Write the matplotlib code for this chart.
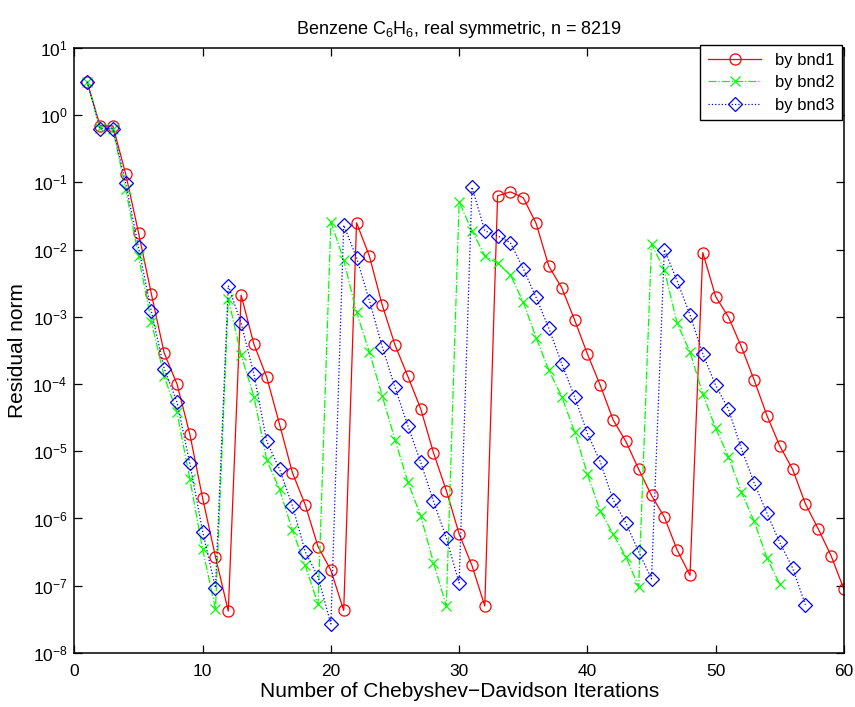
import numpy as np
import matplotlib
matplotlib.use('Agg')
import matplotlib.pyplot as plt

### residual norms, one value per iteration
bnd1 = [3.1, 0.69, 0.69, 0.133, 0.0178, 2.2e-3, 2.9e-4, 1.0e-4, 1.8e-5, 2.0e-6, 2.7e-7, 4.2e-8,
        2.1e-3, 3.9e-4, 1.26e-4, 2.5e-5, 4.8e-6, 1.6e-6, 3.8e-7, 1.7e-7, 4.3e-8,
        2.5e-2, 8.0e-3, 1.5e-3, 3.8e-4, 1.3e-4, 4.3e-5, 9.5e-6, 2.6e-6, 5.9e-7, 2.0e-7, 5.0e-8,
        6.3e-2, 7.2e-2, 5.9e-2, 2.45e-2, 5.6e-3, 2.7e-3, 9.0e-4, 2.8e-4, 9.6e-5, 2.95e-5,
        1.4e-5, 5.4e-6, 2.2e-6, 1.05e-6, 3.4e-7, 1.43e-7,
        9.0e-3, 2.0e-3, 9.9e-4, 3.6e-4, 1.15e-4, 3.4e-5, 1.2e-5, 5.4e-6, 1.65e-6, 7.0e-7, 2.8e-7, 8.9e-8]

bnd2 = [3.1, 0.65, 0.62, 0.079, 8.0e-3, 8.5e-4, 1.3e-4, 3.8e-5, 3.9e-6, 3.5e-7, 4.5e-8,
        1.86e-3, 2.7e-4, 6.5e-5, 7.4e-6, 2.7e-6, 6.7e-7, 2.0e-7, 5.3e-8,
        2.6e-2, 7.0e-3, 1.17e-3, 3.0e-4, 6.7e-5, 1.48e-5, 3.5e-6, 1.1e-6, 2.2e-7, 5.0e-8,
        5.1e-2, 1.9e-2, 8.1e-3, 6.2e-3, 4.2e-3, 1.65e-3, 4.9e-4, 1.6e-4, 6.5e-5, 1.95e-5,
        4.6e-6, 1.3e-6, 5.9e-7, 2.7e-7, 9.6e-8,
        1.2e-2, 5.0e-3, 8.0e-4, 3.0e-4, 7.1e-5, 2.2e-5, 8.3e-6, 2.5e-6, 9.1e-7, 2.6e-7, 1.05e-7]

bnd3 = [3.1, 0.63, 0.63, 0.097, 0.0108, 1.2e-3, 1.7e-4, 5.4e-5, 6.6e-6, 6.4e-7, 9.3e-8,
        2.9e-3, 8.0e-4, 1.4e-4, 1.4e-5, 5.4e-6, 1.55e-6, 3.2e-7, 1.35e-7, 2.7e-8,
        2.3e-2, 7.6e-3, 1.74e-3, 3.6e-4, 8.9e-5, 2.4e-5, 6.9e-6, 1.8e-6, 5.1e-7, 1.1e-7,
        8.5e-2, 1.9e-2, 1.6e-2, 1.26e-2, 5.2e-3, 1.94e-3, 6.7e-4, 2.0e-4, 6.5e-5, 1.85e-5,
        7.0e-6, 1.9e-6, 8.6e-7, 3.2e-7, 1.26e-7,
        1.0e-2, 3.4e-3, 1.07e-3, 2.8e-4, 9.6e-5, 4.2e-5, 1.1e-5, 3.4e-6, 1.2e-6, 4.4e-7, 1.84e-7, 5.2e-8]

it1 = np.arange(1, len(bnd1) + 1)
it2 = np.arange(1, len(bnd2) + 1)
it3 = np.arange(1, len(bnd3) + 1)

plt.rcParams['font.family'] = ['Liberation Sans', 'DejaVu Sans']
plt.rcParams['mathtext.default'] = 'regular'

fig = plt.figure(figsize=(8.55, 7.07), dpi=100)
ax = fig.add_axes([0.087, 0.0764, 0.900, 0.856])

ax.semilogy(it1, bnd1, color=(1, 0, 0), ls='-', lw=0.9, marker='o', ms=8,
            mfc='none', mec=(1, 0, 0), mew=0.9, label='by bnd1')
ax.semilogy(it2, bnd2, color=(0, 1, 0), ls='-.', lw=0.9, marker='x', ms=7,
            mew=0.9, label='by bnd2')
ax.semilogy(it3, bnd3, color=(0, 0, 1), ls=':', lw=0.9, marker='D', ms=7,
            mfc='none', mec=(0, 0, 1), mew=0.9, label='by bnd3')

ax.set_xlim(0, 60)
ax.set_ylim(1e-8, 1e1)
ax.set_xticks(np.arange(0, 61, 10))
ax.set_yticks([10.0 ** k for k in range(-8, 2)])
ax.tick_params(which='both', direction='in', top=True, right=True, labelsize=12.5)
ax.tick_params(which='major', length=5.5, width=0.9)
ax.tick_params(which='minor', length=3, width=0.8)
ax.tick_params(axis='x', pad=8)
ax.tick_params(axis='y', pad=5)
for s in ax.spines.values():
    s.set_linewidth(1.1)

ax.set_title('Benzene C$_6$H$_6$, real symmetric, n = 8219', fontsize=13, pad=10)
ax.set_xlabel('Number of Chebyshev\u2212Davidson Iterations', fontsize=15, labelpad=2)
ax.set_ylabel('Residual norm', fontsize=15, labelpad=4)

leg = ax.legend(loc='upper right', bbox_to_anchor=(0.997, 1.0045), borderaxespad=0,
                fontsize=12, fancybox=False, framealpha=1, edgecolor='black',
                handlelength=3.2, labelspacing=0.45, borderpad=0.45)
leg.get_frame().set_linewidth(1.0)

plt.savefig('out.png', dpi=100)
